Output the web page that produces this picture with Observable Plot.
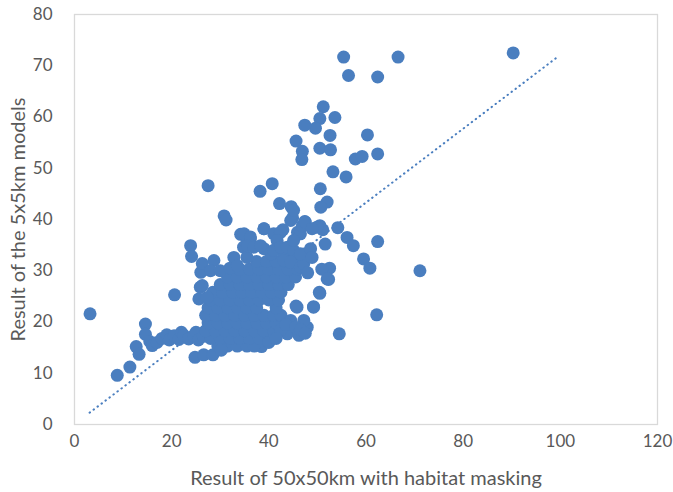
<!DOCTYPE html>
<html>
<head>
<meta charset="utf-8">
<script src="https://cdn.jsdelivr.net/npm/d3@7"></script>
<script src="https://cdn.jsdelivr.net/npm/@observablehq/plot@0.6"></script>
<style>
  body { margin: 0; background: #fff; }
  #chart svg { display: block; }
</style>
</head>
<body>
<div id="chart"></div>
<script>
// Scattered / outlying points (x = 50x50km with habitat masking, y = 5x5km models)
const outX = [90.3, 55.4, 66.6, 56.4, 62.4, 51.2, 53.6, 50.5, 49.6, 47.4,
  52.6, 60.3, 45.6, 46.9, 46.8, 50.5, 52.7, 57.8, 59.2, 62.4,
  53.2, 55.9, 27.5, 40.7, 38.2, 50.6, 52.0, 50.7, 42.2, 44.6,
  44.9, 30.8, 31.2, 47.4, 50.5, 51.1, 54.2, 39.0, 42.9, 45.9,
  56.1, 57.4, 62.4, 51.6, 23.9, 24.1, 59.5, 60.8, 71.1, 52.5,
  50.9, 52.3, 48.3, 50.4, 49.2, 45.6, 62.2, 54.5, 3.2, 20.6,
  14.6, 14.6, 12.7, 13.3, 11.4, 8.8, 38.5, 24.8, 26.6, 28.5];
const outY = [72.5, 71.7, 71.7, 68.1, 67.8, 62.0, 59.9, 59.7, 57.8, 58.4,
  56.4, 56.5, 55.3, 53.3, 51.7, 53.9, 53.6, 51.8, 52.3, 52.8,
  49.3, 48.3, 46.6, 47.0, 45.5, 46.0, 43.4, 42.4, 43.1, 42.5,
  40.3, 40.7, 39.9, 39.6, 38.8, 38.0, 38.4, 38.2, 38.0, 37.5,
  36.5, 34.9, 35.7, 35.2, 34.9, 32.8, 32.3, 30.5, 30.0, 30.5,
  30.3, 28.3, 32.8, 25.8, 23.0, 23.1, 21.4, 17.7, 21.6, 25.3,
  19.6, 17.6, 15.2, 13.7, 11.2, 9.6, 15.2, 13.1, 13.6, 13.6];

// Low band of points between x = 15 and 27
const bandX = [15.5, 16, 17, 18, 19, 19.5, 20.5, 21.5, 22, 22.5, 23.5, 24.5, 25, 25.5, 26.5];
const bandY = [16.2, 15.4, 16, 16.8, 17.5, 16.5, 17.3, 16.6, 18, 17.4, 16.7, 17.3, 18, 16.5, 17.2];

// Dense core of the cloud
const coreX = [
  29.5, 31.5, 33.5, 35.5, 37,
  28, 30, 32, 34, 36, 38, 40,
  27, 29, 31, 33, 35, 37, 39, 41,
  27.5, 29.5, 31.5, 33.5, 35.5, 37.5, 39.5, 41.5,
  27, 29, 31, 33, 35, 37, 39, 41, 42.5,
  27.5, 29.5, 31.5, 33.5, 35.5, 37.5, 41.5,
  28, 30, 32, 34, 36, 38, 40, 42,
  28.5, 30.5, 32.5, 34.5, 36.5, 38.5, 40.5, 42.5,
  30, 32, 34, 36, 38, 40, 42, 44,
  31.5, 33.5, 35.5, 37.5, 39.5, 41.5, 43.5, 45.5,
  34, 36, 38, 40, 42, 44, 46,
  37.5, 39.5, 41.5, 43.5, 45.5, 47,
  40.5, 43, 45, 47.5];
const coreY = [
  15.3, 15.3, 15.3, 15.3, 15.3,
  16.8, 16.8, 16.8, 16.8, 16.8, 16.8, 16.8,
  18.3, 18.3, 18.3, 18.3, 18.3, 18.3, 18.3, 18.3,
  19.8, 19.8, 19.8, 19.8, 19.8, 19.8, 19.8, 19.8,
  21.3, 21.3, 21.3, 21.3, 21.3, 21.3, 21.3, 21.3, 21.3,
  22.8, 22.8, 22.8, 22.8, 22.8, 22.8, 22.8,
  24.3, 24.3, 24.3, 24.3, 24.3, 24.3, 24.3, 24.3,
  25.8, 25.8, 25.8, 25.8, 25.8, 25.8, 25.8, 25.8,
  27.3, 27.3, 27.3, 27.3, 27.3, 27.3, 27.3, 27.3,
  28.8, 28.8, 28.8, 28.8, 28.8, 28.8, 28.8, 28.8,
  30.3, 30.3, 30.3, 30.3, 30.3, 30.3, 30.3,
  31.8, 31.8, 31.8, 31.8, 31.8, 31.8,
  33.3, 33.3, 33.3, 33.3];

// Points on the edges of the core
const edgeX = [25.6, 27.3, 25.9, 26.0, 26.3, 26.3, 28.7, 28.0, 30.0, 32.8,
  32.0, 33.5, 34.8, 35.5, 36.2, 34.2, 35.5, 34.9, 36.2, 35.6,
  36.9, 39.0, 38.3, 39.0, 41.0, 42.4, 41.7, 41.0, 42.4, 43.8,
  45.1, 43.1, 44.5, 46.5, 47.2, 46.5, 48.6, 48.9, 48.0, 46.5,
  46.9, 45.1, 44.5, 45.1, 47.5, 49.9, 48.9, 43.8, 46.2, 47.9,
  47.2, 44.5, 45.8, 49.2, 50.5, 52.0, 42.5, 43.5, 45.5, 46.5,
  47.5, 30.2, 40.0, 41.5];
const edgeY = [24.5, 24.8, 26.8, 29.7, 27.1, 31.4, 32.0, 30.0, 30.0, 32.6,
  30.5, 31.0, 34.6, 32.6, 36.2, 37.1, 35.9, 37.2, 36.6, 34.9,
  34.6, 34.3, 34.9, 38.2, 37.2, 37.5, 35.9, 34.0, 34.6, 34.6,
  34.0, 32.0, 31.7, 30.7, 31.4, 33.3, 34.3, 32.6, 29.6, 37.2,
  38.8, 35.9, 39.8, 41.8, 39.5, 38.5, 38.2, 17.7, 17.4, 19.0,
  20.3, 20.3, 22.9, 22.9, 25.6, 28.4, 18.5, 19.5, 19.0, 18.5,
  17.8, 14.5, 16.0, 16.8];

// Dotted linear trend line end points
const trendX = [3.1, 99.4];
const trendY = [2.3, 71.7];

const xTicks = [0, 20, 40, 60, 80, 100, 120];
const yTicks = [0, 10, 20, 30, 40, 50, 60, 70, 80];
const xTitle = "Result of 50x50km with habitat masking";
const yTitle = "Result of the 5x5km models";

const allX = [...outX, ...bandX, ...coreX, ...edgeX];
const allY = [...outY, ...bandY, ...coreY, ...edgeY];
const points = allX.map((x, i) => ({x, y: allY[i]}));
const trend = trendX.map((x, i) => ({x, y: trendY[i]}));

const blue = "#4a7ebf";
const grey = "#595959";

const chart = Plot.plot({
  width: 673,
  height: 492,
  marginLeft: 74,
  marginRight: 16,
  marginTop: 14,
  marginBottom: 68,
  style: {fontFamily: "Lato, 'Open Sans', sans-serif", color: grey, background: "#fff"},
  x: {domain: [0, 120]},
  y: {domain: [0, 80]},
  marks: [
    Plot.frame({stroke: "#d9d9d9", strokeWidth: 1.3}),
    Plot.axisX({ticks: xTicks, tickSize: 0, tickPadding: 10, fontSize: 17, label: null, tickFormat: d => String(d)}),
    Plot.axisY({ticks: yTicks, tickSize: 0, tickPadding: 22, fontSize: 17, label: null, tickFormat: d => String(d)}),
    Plot.line(trend, {x: "x", y: "y", stroke: blue, strokeWidth: 2, strokeDasharray: "0.5 4.5", strokeLinecap: "round"}),
    Plot.dot(points, {x: "x", y: "y", r: 6.5, fill: blue}),
    Plot.text([xTitle], {text: d => d, frameAnchor: "bottom", lineAnchor: "middle", dy: 54, fontSize: 20, fill: grey}),
    Plot.text([yTitle], {text: d => d, frameAnchor: "left", textAnchor: "middle", lineAnchor: "middle", dx: -56, rotate: -90, fontSize: 20, fill: grey})
  ]
});
document.getElementById("chart").appendChild(chart);
</script>
</body>
</html>
